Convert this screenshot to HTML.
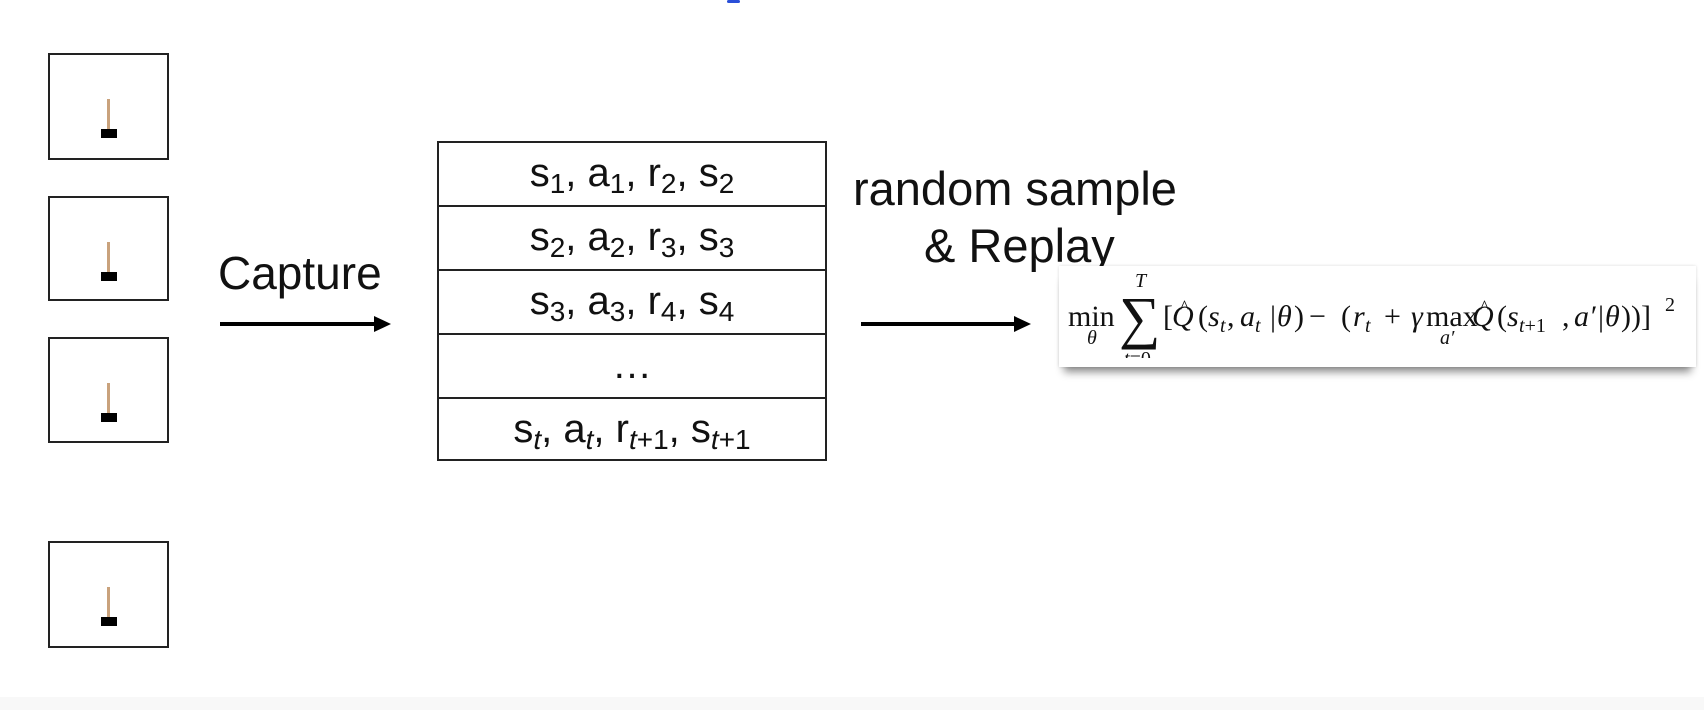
<!DOCTYPE html>
<html><head><meta charset="utf-8"><style>
html,body{margin:0;padding:0;}
body{width:1704px;height:710px;position:relative;background:#fff;overflow:hidden;font-family:"Liberation Sans",sans-serif;}
.box{position:absolute;left:48px;width:121px;border:2px solid #222;box-sizing:border-box;}
.pole{position:absolute;left:57px;width:3px;background:#c9a27c;}
.cart{position:absolute;left:51px;width:16px;height:9px;background:#000;}
.lbl{position:absolute;color:#111;white-space:nowrap;font-size:46px;line-height:1;}
.table{position:absolute;left:437px;top:141px;width:390px;height:320px;border:2px solid #222;box-sizing:border-box;}
.row{height:64px;border-bottom:2px solid #222;box-sizing:border-box;text-align:center;font-size:40px;line-height:60px;color:#111;}
.row:last-child{border-bottom:none}
.row sub{font-size:28px;vertical-align:-7px;line-height:0}
.band{position:absolute;left:0;top:697px;width:1704px;height:13px;background:#f8f8f8;}
.fbox{position:absolute;left:1059px;top:266px;width:637px;height:101px;background:#fff;box-shadow:0 10px 8px -5px rgba(0,0,0,.45),0 0 3px rgba(0,0,0,.15);overflow:hidden;}
</style></head><body>
<div style="position:absolute;left:727px;top:0;width:13px;height:3px;background:#2a4fd8;border-radius:2px"></div>

<div class="box" style="top:53px;height:107px"><div class="pole" style="top:44px;height:32px"></div><div class="cart" style="top:74px"></div></div>
<div class="box" style="top:196px;height:105px"><div class="pole" style="top:44px;height:32px"></div><div class="cart" style="top:74px"></div></div>
<div class="box" style="top:337px;height:106px"><div class="pole" style="top:44px;height:32px"></div><div class="cart" style="top:74px"></div></div>
<div class="box" style="top:541px;height:107px"><div class="pole" style="top:44px;height:32px"></div><div class="cart" style="top:74px"></div></div>

<div class="lbl" style="left:218px;top:250px;">Capture</div>
<svg style="position:absolute;left:0;top:0" width="1704" height="710">
<line x1="220" y1="324" x2="376" y2="324" stroke="#000" stroke-width="4"/>
<polygon points="374,316 391,324 374,332" fill="#000"/>
<line x1="861" y1="324" x2="1016" y2="324" stroke="#000" stroke-width="4"/>
<polygon points="1014,316 1031,324 1014,332" fill="#000"/>
</svg>

<div class="table">
<div class="row">s<sub>1</sub>, a<sub>1</sub>, r<sub>2</sub>, s<sub>2</sub></div>
<div class="row">s<sub>2</sub>, a<sub>2</sub>, r<sub>3</sub>, s<sub>3</sub></div>
<div class="row">s<sub>3</sub>, a<sub>3</sub>, r<sub>4</sub>, s<sub>4</sub></div>
<div class="row">…</div>
<div class="row">s<sub><i>t</i></sub>, a<sub><i>t</i></sub>, r<sub><i>t</i>+1</sub>, s<sub><i>t</i>+1</sub></div>
</div>

<div class="lbl" style="left:853px;top:165px;font-size:47px">random sample</div>
<div class="lbl" style="left:924px;top:222px;font-size:47px">&amp; Replay</div>

<div class="fbox"></div>
<svg style="position:absolute;left:0;top:0" width="1704" height="710" font-family="Liberation Serif, serif" font-size="30" fill="#111">
<defs><clipPath id="c"><rect x="1059" y="266" width="637" height="92"/></clipPath></defs>
<g clip-path="url(#c)">
<text x="1068" y="326">min</text>
<text x="1087" y="344" font-size="20" font-style="italic">θ</text>
<text x="1135" y="287" font-size="20" font-style="italic">T</text>
<text x="1119" y="337" font-size="58">∑</text>
<text x="1124" y="365" font-size="20"><tspan font-style="italic">t</tspan>=0</text>
<text x="1163" y="326">[</text>
<text x="1172" y="326" font-style="italic">Q</text>
<text x="1180" y="313" font-size="19">^</text>
<text x="1198" y="326">(</text>
<text x="1208" y="326" font-style="italic">s</text>
<text x="1220" y="332" font-size="20" font-style="italic">t</text>
<text x="1227" y="326">,</text>
<text x="1240" y="326" font-style="italic">a</text>
<text x="1255" y="332" font-size="20" font-style="italic">t</text>
<text x="1270" y="326">|</text>
<text x="1277" y="326" font-style="italic">θ</text>
<text x="1294" y="326">)</text>
<text x="1309" y="326">−</text>
<text x="1341" y="326">(</text>
<text x="1353" y="326" font-style="italic">r</text>
<text x="1365" y="332" font-size="20" font-style="italic">t</text>
<text x="1384" y="326">+</text>
<text x="1411" y="326" font-style="italic">γ</text>
<text x="1426" y="326">max</text>
<text x="1440" y="344" font-size="20" font-style="italic">a′</text>
<text x="1472" y="326" font-style="italic">Q</text>
<text x="1480" y="313" font-size="19">^</text>
<text x="1497" y="326">(</text>
<text x="1507" y="326" font-style="italic">s</text>
<text x="1519" y="332" font-size="20"><tspan font-style="italic">t</tspan>+1</text>
<text x="1562" y="326">,</text>
<text x="1574" y="326" font-style="italic">a′</text>
<text x="1598" y="326">|</text>
<text x="1605" y="326" font-style="italic">θ</text>
<text x="1621" y="326">))]</text>
<text x="1665" y="311" font-size="20">2</text>
</g>
</svg>

<div class="band"></div>
</body></html>
